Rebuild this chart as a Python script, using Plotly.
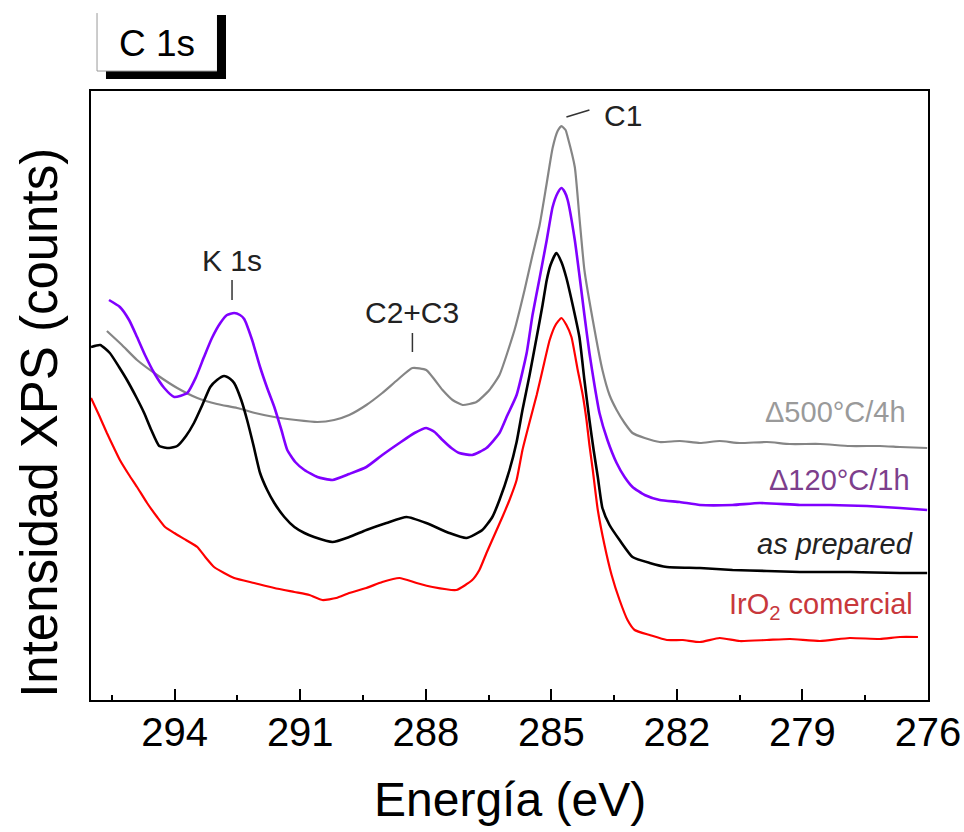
import plotly.graph_objects as go

# C 1s XPS spectra (binding energy in eV, intensity in arbitrary counts)
ev_500 = [295.62, 295.26, 294.90, 294.42, 293.94, 293.46, 292.99, 292.51, 292.08, 291.62,
          291.10, 290.59, 290.19, 289.83, 289.42, 289.04, 288.68, 288.32, 287.99, 287.60,
          287.36, 287.12, 286.79, 286.48, 286.24, 285.88, 285.64, 285.45, 285.28, 285.11,
          284.97, 284.85, 284.76, 284.66, 284.61, 284.44, 284.33, 284.21, 284.01, 283.78,
          283.61, 283.44, 283.25, 283.06, 282.77, 282.41, 281.93, 281.45, 280.98, 280.50,
          279.85, 279.30, 278.58, 277.87, 277.15, 276.67, 276.02]
int_500 = [369, 355, 340, 325, 312, 302, 296, 292, 287, 283,
           280, 278, 280, 285, 295, 307, 320, 332, 330, 310,
           300, 295, 298, 310, 325, 370, 410, 445, 475, 517,
           552, 569, 574, 570, 563, 533, 483, 430, 380, 330,
           305, 290, 277, 267, 262, 258, 259, 257, 259, 257,
           258, 256, 256, 254, 254, 253, 252]

ev_120 = [295.57, 295.31, 295.09, 294.90, 294.71, 294.49, 294.25, 294.01, 293.70, 293.49,
          293.30, 293.11, 292.91, 292.75, 292.58, 292.44, 292.34, 292.15, 291.96, 291.79,
          291.62, 291.45, 291.31, 291.12, 290.90, 290.59, 290.23, 289.83, 289.42, 289.04,
          288.63, 288.27, 287.99, 287.79, 287.60, 287.39, 287.20, 286.89, 286.55, 286.24,
          286.07, 285.83, 285.59, 285.45, 285.28, 285.11, 284.97, 284.85, 284.76, 284.68,
          284.61, 284.44, 284.33, 284.21, 284.09, 283.97, 283.85, 283.66, 283.44, 283.25,
          283.06, 282.77, 282.41, 281.93, 281.45, 280.67, 280.02, 279.06, 278.34, 277.46,
          276.67, 276.02]
int_120 = [400, 393, 380, 363, 345, 327, 312, 303, 307, 323,
           343, 362, 377, 385, 387, 385, 381, 360, 333, 312,
           293, 270, 250, 238, 230, 223, 220, 226, 233, 245,
           257, 267, 272, 268, 260, 252, 247, 245, 252, 267,
           283, 305, 347, 385, 422, 460, 493, 507, 512, 508,
           500, 460, 425, 385, 347, 315, 287, 260, 237, 223,
           213, 205, 200, 198, 195, 195, 197, 195, 195, 194,
           192, 190]

ev_prep = [296.00, 295.78, 295.55, 295.33, 295.14, 294.92, 294.73, 294.56, 294.37, 294.13,
           293.94, 293.73, 293.54, 293.34, 293.15, 292.99, 292.82, 292.67, 292.58, 292.41,
           292.27, 292.12, 291.96, 291.79, 291.62, 291.38, 291.14, 290.90, 290.67, 290.23,
           289.83, 289.42, 288.94, 288.46, 287.99, 287.44, 287.03, 286.65, 286.41, 286.24,
           286.00, 285.83, 285.69, 285.52, 285.35, 285.21, 285.11, 285.02, 284.88, 284.76,
           284.64, 284.49, 284.33, 284.21, 284.09, 283.99, 283.89, 283.78, 283.61, 283.37,
           283.06, 282.65, 282.24, 281.45, 280.67, 279.85, 279.06, 277.87, 276.67, 276.02]
int_prep = [353, 355, 347, 333, 320, 303, 287, 270, 254, 252,
            254, 264, 277, 295, 313, 320, 324, 321, 317, 300,
            280, 255, 227, 210, 197, 183, 173, 167, 163, 158,
            163, 170, 177, 183, 177, 167, 162, 170, 183, 200,
            230, 258, 290, 325, 363, 395, 420, 435, 447, 438,
            422, 395, 363, 320, 280, 250, 223, 192, 175, 160,
            143, 137, 133, 132, 130, 129, 128, 128, 127, 127]

ev_iro2 = [296.00, 295.81, 295.62, 295.45, 295.31, 295.09, 294.90, 294.66, 294.42, 294.23,
           294.01, 293.73, 293.46, 293.27, 293.06, 292.82, 292.58, 292.10, 291.62, 291.14,
           290.78, 290.47, 290.14, 289.83, 289.42, 289.04, 288.63, 288.22, 287.84, 287.27,
           286.89, 286.72, 286.55, 286.36, 286.17, 286.00, 285.83, 285.69, 285.52, 285.35,
           285.21, 285.04, 284.90, 284.76, 284.64, 284.52, 284.37, 284.25, 284.16, 284.09,
           284.01, 283.89, 283.73, 283.56, 283.37, 283.18, 283.01, 282.65, 282.24, 281.86,
           281.45, 280.98, 280.50, 279.85, 279.30, 278.58, 277.87, 277.15, 276.67, 276.24]
int_iro2 = [302, 285, 267, 252, 240, 225, 213, 197, 183, 173,
            167, 160, 153, 143, 133, 127, 122, 117, 112, 108,
            105, 100, 102, 107, 112, 118, 122, 117, 113, 110,
            120, 130, 147, 165, 183, 200, 220, 250, 278, 305,
            330, 360, 375, 382, 375, 363, 330, 305, 280, 255,
            230, 190, 155, 125, 100, 80, 70, 65, 60, 60,
            58, 62, 59, 60, 61, 59, 62, 61, 63, 63]

series = [
    ("Δ500°C/4h", ev_500, int_500, "#858585", 2.2),
    ("Δ120°C/1h", ev_120, int_120, "#8000ff", 2.6),
    ("as prepared", ev_prep, int_prep, "#000000", 2.6),
    ("IrO2 comercial", ev_iro2, int_iro2, "#ff0000", 2.2),
]

FONT = "Liberation Sans, Arial, sans-serif"

fig = go.Figure()
for name, xs, ys, color, width in series:
    fig.add_trace(go.Scatter(
        x=xs, y=ys, mode="lines", name=name,
        line=dict(color=color, width=width, shape="spline", smoothing=0.5),
        showlegend=False,
    ))

# series labels on the right-hand side
labels = [
    ("Δ500°C/4h", 276.48, 288, "#9a9a9a", "normal"),
    ("Δ120°C/1h", 276.38, 220, "#7d3f8c", "normal"),
    ("as prepared", 276.31, 156, "#222222", "italic"),
    ("IrO<sub>2</sub> comercial", 276.31, 94, "#c8383c", "normal"),
]
for text, x, y, color, style in labels:
    fig.add_annotation(x=x, y=y, text=text, showarrow=False, xanchor="right",
                       yanchor="middle",
                       font=dict(family=FONT, size=29, color=color, style=style))

# peak markers
peaks = [
    ("K 1s", 292.63, 440, 420, 400),
    ("C2+C3", 288.32, 388, 367, 348),
]
for text, x, ytext, y0, y1 in peaks:
    fig.add_annotation(x=x, y=ytext, text=text, showarrow=False,
                       xanchor="center", yanchor="middle",
                       font=dict(family=FONT, size=30, color="#222222"))
    fig.add_shape(type="line", x0=x, x1=x, y0=y0, y1=y1,
                  line=dict(color="#333333", width=1.5))

fig.add_annotation(x=283.80, y=585, text="C1", showarrow=False, xanchor="left",
                   yanchor="middle", font=dict(family=FONT, size=30, color="#222222"))
fig.add_shape(type="line", x0=284.64, x1=284.09, y0=583, y1=590,
              line=dict(color="#333333", width=1.5))

# "C 1s" panel tag with drop shadow
fig.add_shape(type="rect", xref="paper", yref="paper", x0=0.1505, x1=0.1613,
              y0=1.0197, y1=1.1248, line=dict(width=0), fillcolor="black")
fig.add_shape(type="rect", xref="paper", yref="paper", x0=0.0179, x1=0.1613,
              y0=1.0197, y1=1.0328, line=dict(width=0), fillcolor="black")
fig.add_shape(type="line", xref="paper", yref="paper", x0=0.0072, x1=0.0072,
              y0=1.0328, y1=1.128, line=dict(color="#999999", width=1))
fig.add_shape(type="line", xref="paper", yref="paper", x0=0.0072, x1=0.1505,
              y0=1.0328, y1=1.0328, line=dict(color="#999999", width=1))
fig.add_annotation(xref="paper", yref="paper", x=0.0789, y=1.0788, text="C 1s",
                   xanchor="center", yanchor="middle", showarrow=False,
                   font=dict(family=FONT, size=37, color="black"))

# axis titles
fig.add_annotation(xref="paper", yref="paper", x=0.5006, y=-0.164, text="Energía (eV)",
                   xanchor="center", yanchor="middle", showarrow=False,
                   font=dict(family=FONT, size=48, color="black"))
fig.add_annotation(xref="paper", yref="paper", x=-0.061, y=0.455,
                   text="Intensidad XPS (counts)", textangle=-90, showarrow=False,
                   xanchor="center", yanchor="middle",
                   font=dict(family=FONT, size=51, color="black"))

fig.update_xaxes(
    range=[296, 276], tickmode="linear", tick0=276, dtick=3,
    ticks="inside", ticklen=11, tickwidth=2, tickcolor="black",
    minor=dict(ticks="inside", ticklen=5, tickwidth=1.5, dtick=1.5, tick0=276,
               tickcolor="black"),
    showline=True, linecolor="black", linewidth=2, mirror=True,
    showgrid=False, zeroline=False, automargin=False, ticklabelstandoff=-4,
    tickfont=dict(family=FONT, size=40, color="black"),
)
fig.update_yaxes(
    range=[0, 609], showticklabels=False, ticks="",
    showline=True, linecolor="black", linewidth=2, mirror=True,
    showgrid=False, zeroline=False, automargin=False,
)
fig.update_layout(
    width=964, height=832,
    margin=dict(l=91, r=36, t=91, b=132),
    paper_bgcolor="white", plot_bgcolor="white",
)

fig.write_html("out.html")
